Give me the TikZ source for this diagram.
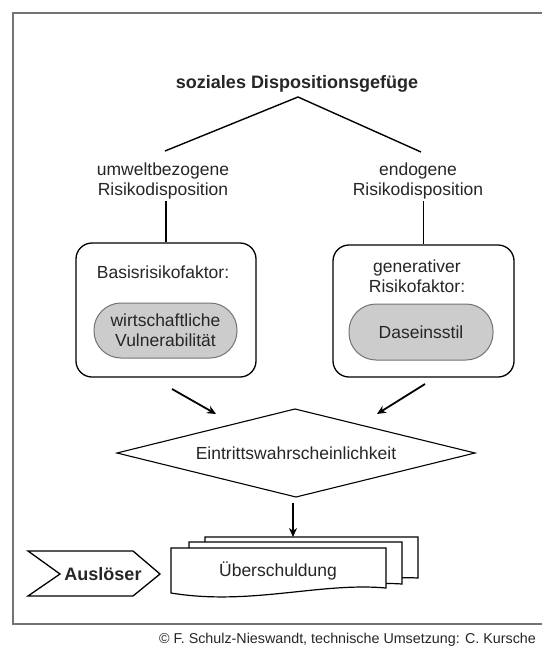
\documentclass[tikz,border=0pt]{standalone}
\usepackage{fontspec}
\setmainfont{Liberation Sans}
\usetikzlibrary{shapes.geometric,arrows.meta}
\begin{document}
\begin{tikzpicture}[x=1pt,y=-1pt,
  txt/.style={font=\fontsize{17.5}{20}\selectfont, align=center, inner sep=0pt, text=black!85},
  outerbox/.style={draw, line width=1.3pt, rounded corners=16pt, fill=white},
  pill/.style={draw=black!55, line width=1pt, fill=black!20, rounded corners=27pt, font=\fontsize{17.5}{20}\selectfont, align=center, inner sep=0pt, text=black!85},
  conn/.style={line width=1.4pt},
  arr/.style={line width=1.8pt, -{Stealth[length=9pt,width=8pt]}},
  doc/.style={draw, line width=1.2pt, fill=white}
]
\useasboundingbox (0,0) rectangle (541,648);
\fill[white] (0,0) rectangle (541,648);
% frame
\draw[black!55, line width=2pt] (13,13) rectangle (560,624);

% title
\node[txt, font=\bfseries\fontsize{18}{20}\selectfont] (title) at (297,84) {soziales Dispositionsgefüge};
\coordinate (apex) at (298,97);
\coordinate (lend) at (165,151);
\coordinate (rend) at (421,152);
\draw[conn] (lend) -- (apex) -- (rend);

\node[txt] (ldisp) at (163,181) {umweltbezogene\\Risikodisposition};
\node[txt] (rdisp) at (418,181) {endogene\\Risikodisposition};

% boxes
\node[outerbox, minimum width=180pt, minimum height=134pt] (lbox) at (166,310) {};
\node[outerbox, minimum width=181pt, minimum height=132pt] (rbox) at (423.5,311) {};
\coordinate (ltop) at (166,201);
\coordinate (rtop) at (423.5,201);
\draw[conn] (ltop) -- (lbox.north);
\draw[conn] (rtop) -- (rbox.north);

\node[txt] (lhead) at (163,272) {Basisrisikofaktor:};
\node[txt] (rhead) at (417,276) {generativer\\Risikofaktor:};
\node[pill, minimum width=143pt, minimum height=55pt] (lpill) at (165.5,330.5) {wirtschaftliche\\Vulnerabilität};
\node[pill, minimum width=144pt, minimum height=56pt] (rpill) at (421,332) {Daseinsstil};

% diamond
\coordinate (dW) at (117,453);
\coordinate (dN) at (295,409);
\coordinate (dE) at (475,453);
\coordinate (dS) at (296,497);
\draw[line width=1.1pt] (dW) -- (dN) -- (dE) -- (dS) -- cycle;
\node[txt] (dia) at (296,453) {Eintrittswahrscheinlichkeit};

\coordinate (la) at (172,389);
\coordinate (lb) at (216,414);
\coordinate (ra) at (425,384);
\coordinate (rb) at (377,414);
\draw[arr] (la) -- (lb);
\draw[arr] (ra) -- (rb);

% documents
\draw[doc] (205,537) -- (418,537) -- (418,578) .. controls (380,576) and (330,586) .. (300,582) -- (205,582) -- cycle;
\draw[doc] (189,542) -- (402,542) -- (402,584) .. controls (360,581) and (310,593) .. (280,588) -- (189,588) -- cycle;
\draw[doc] (171,548) -- (386,548) -- (386,588) .. controls (320,582) and (250,606) .. (171,593) -- cycle;
\node[txt] (ueb) at (278,571) {Überschuldung};
\coordinate (docTop) at (293,537);
\coordinate (diaBot) at (293,503);
\draw[arr, line width=1.5pt] (diaBot) -- (docTop);

% Ausloeser
\draw[line width=1.3pt, fill=white] (28,551) -- (133,551) -- (160,574) -- (133,596) -- (28,596) -- (60,574) -- cycle;
\node[txt, font=\bfseries\fontsize{18}{20}\selectfont] (ausl) at (103,574) {Auslöser};

% copyright
\node[anchor=west, inner sep=0pt, font=\fontsize{14.3}{16}\selectfont, text=black!85] (copy) at (159,640) {© F. Schulz-Nieswandt, technische Umsetzung: C. Kursche};
\end{tikzpicture}
\end{document}
